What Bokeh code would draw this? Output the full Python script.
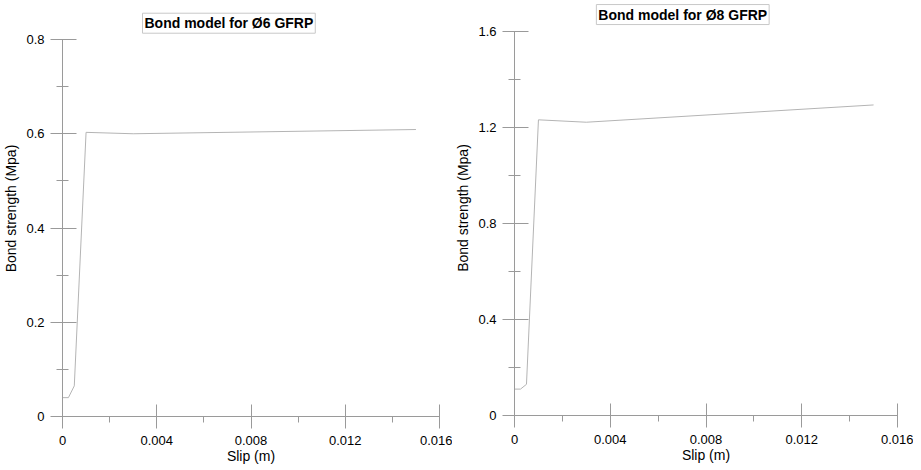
from bokeh.plotting import figure
from bokeh.layouts import row
from bokeh.models import FixedTicker, CustomJSTickFormatter, Label, Range1d
from bokeh.embed import file_html
from bokeh.resources import INLINE

# ---- data ----
slip6 = [0.0, 0.00025, 0.0005, 0.001, 0.003, 0.015]
bond6 = [0.04, 0.04, 0.065, 0.603, 0.600, 0.609]
slip8 = [0.0, 0.00025, 0.0005, 0.001, 0.003, 0.015]
bond8 = [0.11, 0.11, 0.13, 1.232, 1.222, 1.294]

x_ticks = [0, 0.004, 0.008, 0.012, 0.016]
x_minor = [0.002, 0.006, 0.010, 0.014]
y6_ticks = [0, 0.2, 0.4, 0.6, 0.8]
y6_minor = [0.1, 0.3, 0.5, 0.7]
y8_ticks = [0, 0.4, 0.8, 1.2, 1.6]
y8_minor = [0.2, 0.6, 1.0, 1.4]

titles = ["Bond model for Ø6 GFRP", "Bond model for Ø8 GFRP"]
x_label = "Slip (m)"
y_label = "Bond strength (Mpa)"

FONT = "Liberation Sans"
AXC = "#9a9a9a"
LINEC = "#b4b4b4"

fmt = CustomJSTickFormatter(code="return tick == 0 ? '0' : String(+tick.toFixed(6));")


def make(xs, ys, yt, ym, ymax, yview, title, tx, ty, fw, fh, bl, br, bb):
    p = figure(frame_width=fw, frame_height=fh, output_backend="svg", toolbar_location=None,
               x_range=Range1d(0, 0.016), y_range=Range1d(0, yview),
               min_border_left=bl, min_border_right=br,
               min_border_top=0, min_border_bottom=bb)
    p.outline_line_color = None
    p.grid.visible = False
    p.line(xs, ys, line_color=LINEC, line_width=1)

    lab = Label(x=tx, y=ty, text=title, text_font=FONT,
                text_font_size="14px", text_font_style="bold", text_color="black",
                text_align="left", text_baseline="bottom",
                border_line_color="#c8c8c8", background_fill_color="white",
                padding=2)
    p.add_layout(lab)

    xa = p.xaxis[0]
    xa.ticker = FixedTicker(ticks=x_ticks, minor_ticks=x_minor)
    xa.formatter = fmt
    xa.axis_label = x_label
    xa.bounds = (0, 0.016)
    xa.major_tick_in = 12
    xa.major_tick_out = 12
    xa.minor_tick_in = 0
    xa.minor_tick_out = 6
    xa.major_label_standoff = 7
    xa.axis_label_standoff = 0

    ya = p.yaxis[0]
    ya.ticker = FixedTicker(ticks=yt, minor_ticks=ym)
    ya.formatter = fmt
    ya.axis_label = y_label
    ya.bounds = (0, ymax)
    ya.major_tick_in = 14
    ya.major_tick_out = 12
    ya.minor_tick_in = 6
    ya.minor_tick_out = 6
    ya.major_label_standoff = 6
    ya.axis_label_standoff = 4
    ya.major_label_orientation = "horizontal"

    for a in (xa, ya):
        a.axis_line_color = AXC
        a.major_tick_line_color = AXC
        a.minor_tick_line_color = AXC
        a.major_label_text_font = FONT
        a.major_label_text_font_size = "13px"
        a.major_label_text_color = "black"
        a.axis_label_text_font = FONT
        a.axis_label_text_font_size = "14px"
        a.axis_label_text_font_style = "normal"
        a.axis_label_text_color = "black"
    return p


p1 = make(slip6, bond6, y6_ticks, y6_minor, 0.8, 0.8828, titles[0], 0.003395, 0.8134,
          377, 416, 54, 13, 46)
p2 = make(slip8, bond8, y8_ticks, y8_minor, 1.6, 1.7292, titles[1], 0.00342, 1.629,
          383, 415, 53, 16, 47)

layout = row(p1, p2)
open("out.html", "w").write(file_html(layout, INLINE))
